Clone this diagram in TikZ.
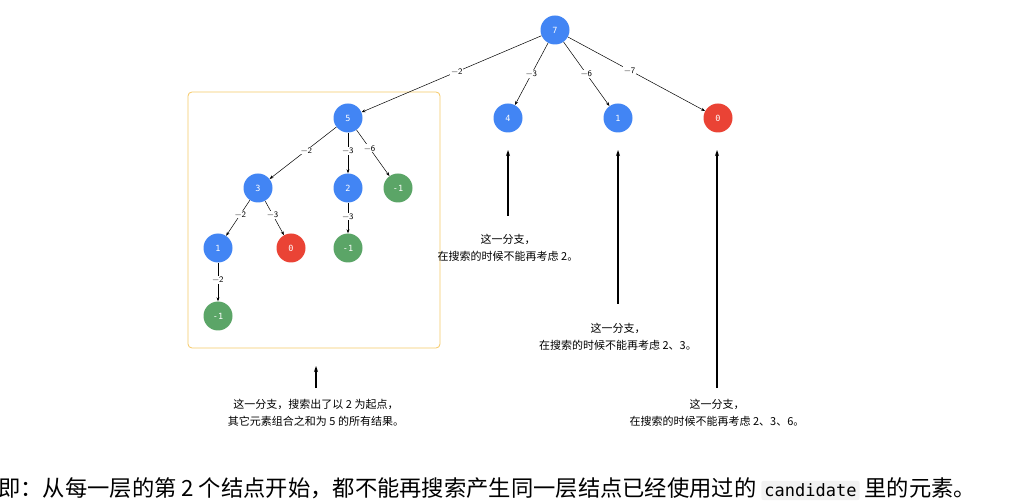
\documentclass[tikz,border=0pt]{standalone}
\usepackage{fontspec}
\setmonofont{DejaVu Sans Mono}
\newfontfamily\cjk{Noto Sans CJK SC}
\usetikzlibrary{arrows.meta}
\definecolor{nb}{HTML}{4285F4}
\definecolor{nr}{HTML}{EA4335}
\definecolor{ng}{HTML}{5BA567}
\definecolor{ob}{HTML}{F5C865}
\begin{document}
\begin{tikzpicture}[x=1pt,y=-1pt,
  tn/.style={circle,minimum size=29pt,inner sep=0pt,text=white,font=\ttfamily\fontsize{8.5}{8.5}\selectfont},
  bn/.style={tn,fill=nb}, rn/.style={tn,fill=nr}, gn/.style={tn,fill=ng},
  ed/.style={-{Stealth[length=4pt,width=3pt]},line width=0.5pt},
  el/.style={fill=white,inner sep=1pt,font=\sffamily\fontsize{8.5}{8.5}\selectfont},
  bigar/.style={-{Stealth[length=6pt,width=4pt]},line width=1.1pt},
  note/.style={align=center,font=\cjk\fontsize{11}{17}\selectfont}]
\useasboundingbox (0,0) rectangle (1009,502);
\draw[ob,rounded corners=4pt,line width=0.8pt] (188,92) rectangle (440,348);
\node[bn] (r) at (555,30) {7};
\node[bn] (a) at (348,118) {5};
\node[bn] (b) at (508,118) {4};
\node[bn] (c) at (618,118) {1};
\node[rn] (d) at (718,118) {0};
\node[bn] (a1) at (258,188) {3};
\node[bn] (a2) at (348,188) {2};
\node[gn] (a3) at (398,188) {-1};
\node[bn] (a11) at (218,248) {1};
\node[rn] (a12) at (291,248) {0};
\node[gn] (a21) at (348,248) {-1};
\node[gn] (a111) at (218,316) {-1};
\draw[ed] (r) -- node[el,pos=0.47]{−2} (a);
\draw[ed] (r) -- node[el,pos=0.5]{−3} (b);
\draw[ed] (r) -- node[el,pos=0.5]{−6} (c);
\draw[ed] (r) -- node[el,pos=0.45]{−7} (d);
\draw[ed] (a) -- node[el,pos=0.45]{−2} (a1);
\draw[ed] (a) -- node[el,pos=0.45]{−3} (a2);
\draw[ed] (a) -- node[el,pos=0.4]{−6} (a3);
\draw[ed] (a1) -- node[el,pos=0.4]{−2} (a11);
\draw[ed] (a1) -- node[el,pos=0.4]{−3} (a12);
\draw[ed] (a2) -- node[el,pos=0.45]{−3} (a21);
\draw[ed] (a11) -- node[el,pos=0.45]{−2} (a111);
\node[note] (t1) at (508,248) {这一分支，\\在搜索的时候不能再考虑 2。};
\node[note] (t2) at (618,337) {这一分支，\\在搜索的时候不能再考虑 2、3。};
\node[note] (t3) at (717,413) {这一分支，\\在搜索的时候不能再考虑 2、3、6。};
\node[note] (t4) at (316,413) {这一分支，搜索出了以 2 为起点，\\其它元素组合之和为 5 的所有结果。};
\coordinate (p1) at (508,150); \coordinate (p2) at (618,150); \coordinate (p3) at (717,150); \coordinate (p4) at (316,366);
\draw[bigar] (508,216) -- (p1);
\draw[bigar] (618,304) -- (p2);
\draw[bigar] (717,388) -- (p3);
\draw[bigar] (316,388) -- (p4);
\node[anchor=west,inner sep=0pt,font=\cjk\fontsize{22.3}{22.3}\selectfont] (bt) at (-2,489) {即：从每一层的第 2 个结点开始，都不能再搜索产生同一层结点已经使用过的 \tikz[baseline=(c.base)]\node[fill=black!5,rounded corners=2pt,inner sep=3pt,font=\ttfamily\fontsize{17}{17}\selectfont](c){candidate}; 里的元素。};
\end{tikzpicture}
\end{document}
